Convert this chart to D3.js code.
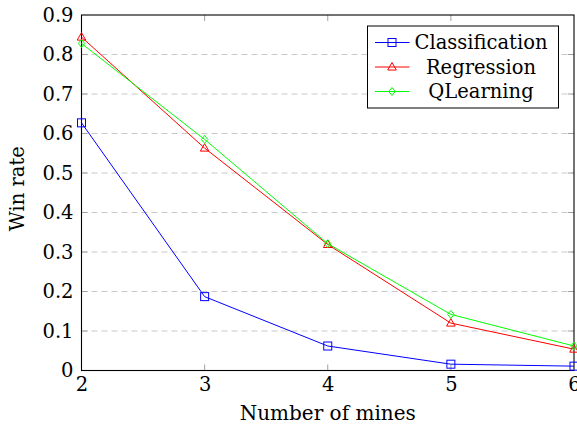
<!DOCTYPE html>
<html>
<head>
<meta charset="utf-8">
<script src="https://cdn.jsdelivr.net/npm/d3@7"></script>
<style>
  body { margin: 0; background: #fff; }
  text { font-family: "DejaVu Serif", serif; fill: #000; }
</style>
</head>
<body>
<div id="chart"></div>
<script>
// data
const mines = [2, 3, 4, 5, 6];
const classification = [0.627, 0.187, 0.062, 0.016, 0.011];
const regression = [0.844, 0.563, 0.319, 0.12, 0.054];
const qlearning = [0.828, 0.585, 0.321, 0.142, 0.062];
const yTicks = [0, 0.1, 0.2, 0.3, 0.4, 0.5, 0.6, 0.7, 0.8, 0.9];

const series = [
    {name: "Classification", values: classification, color: "#0000ff", marker: "square"},
    {name: "Regression", values: regression, color: "#ff0000", marker: "triangle"},
    {name: "QLearning", values: qlearning, color: "#00ff00", marker: "diamond"}
];

const width = 577, height = 426;
const margin = {top: 15, right: 3, bottom: 55.5, left: 81.5};
const w = width - margin.left - margin.right,
    h = height - margin.top - margin.bottom;

const svg = d3.select("#chart").append("svg")
    .attr("width", width)
    .attr("height", height);

const g = svg.append("g")
    .attr("transform", "translate(" + margin.left + "," + margin.top + ")");

const x = d3.scaleLinear().domain([2, 6]).range([0, w]);
const y = d3.scaleLinear().domain([0, 0.9]).range([h, 0]);

// dashed grid
g.append("g").selectAll("line")
    .data(yTicks.filter(d => d > 0 && d < 0.9))
    .enter().append("line")
    .attr("x1", 0).attr("x2", w)
    .attr("y1", d => y(d)).attr("y2", d => y(d))
    .attr("stroke", "#c8c8c8")
    .attr("stroke-width", 1)
    .attr("stroke-dasharray", "6,4");

// inner tick marks (left/right, bottom/top)
const tickLen = 6;
const tickG = g.append("g").attr("stroke", "#a0a0a0").attr("stroke-width", 1);
yTicks.filter(d => d > 0 && d < 0.9).forEach(d => {
    tickG.append("line").attr("x1", 0).attr("x2", tickLen).attr("y1", y(d)).attr("y2", y(d));
    tickG.append("line").attr("x1", w - tickLen).attr("x2", w).attr("y1", y(d)).attr("y2", y(d));
});
mines.filter(d => d > 2 && d < 6).forEach(d => {
    tickG.append("line").attr("x1", x(d)).attr("x2", x(d)).attr("y1", h).attr("y2", h - tickLen);
    tickG.append("line").attr("x1", x(d)).attr("x2", x(d)).attr("y1", 0).attr("y2", tickLen);
});

// axis labels via d3 axes, lines hidden
const yAxis = g.append("g")
    .call(d3.axisLeft(y).tickValues(yTicks).tickSize(0).tickPadding(8).tickFormat(d3.format("")));
const xAxis = g.append("g")
    .attr("transform", "translate(0," + h + ")")
    .call(d3.axisBottom(x).tickValues(mines).tickSize(0).tickPadding(7).tickFormat(d3.format("d")));
[yAxis, xAxis].forEach(a => {
    a.select(".domain").remove();
    a.selectAll("text")
        .style("font-family", "'DejaVu Serif', serif")
        .style("font-size", "19.5px")
        .attr("fill", "#000");
});

// frame
g.append("rect")
    .attr("width", w).attr("height", h)
    .attr("fill", "none")
    .attr("stroke", "#000")
    .attr("stroke-width", 1.1);

const line = d3.line()
    .x((d, i) => x(mines[i]))
    .y(d => y(d));

function drawMarker(sel, type, color, cx, cy) {
    if (type === "square") {
        sel.append("rect")
            .attr("x", cx - 4).attr("y", cy - 4)
            .attr("width", 8).attr("height", 8)
            .attr("fill", "none").attr("stroke", color).attr("stroke-width", 1);
    } else if (type === "triangle") {
        sel.append("path")
            .attr("d", "M" + cx + "," + (cy - 4.5) + "L" + (cx + 4.3) + "," + (cy + 3) + "L" + (cx - 4.3) + "," + (cy + 3) + "Z")
            .attr("fill", "none").attr("stroke", color).attr("stroke-width", 1);
    } else {
        sel.append("path")
            .attr("d", "M" + cx + "," + (cy - 4) + "L" + (cx + 3.2) + "," + cy + "L" + cx + "," + (cy + 4) + "L" + (cx - 3.2) + "," + cy + "Z")
            .attr("fill", "none").attr("stroke", color).attr("stroke-width", 1);
    }
}

series.forEach(s => {
    const sg = g.append("g");
    sg.append("path")
        .datum(s.values)
        .attr("d", line)
        .attr("fill", "none")
        .attr("stroke", s.color)
        .attr("stroke-width", 1);
    s.values.forEach((v, i) => drawMarker(sg, s.marker, s.color, x(mines[i]), y(v)));
});

// axis titles
svg.append("text")
    .attr("x", margin.left + w / 2)
    .attr("y", 420)
    .attr("text-anchor", "middle")
    .style("font-size", "20px")
    .text("Number of mines");

svg.append("text")
    .attr("transform", "translate(24," + (margin.top + h / 2 - 4) + ") rotate(-90)")
    .attr("text-anchor", "middle")
    .style("font-size", "19.5px")
    .text("Win rate");

// legend
const legend = svg.append("g").attr("transform", "translate(367.5,26)");
legend.append("rect")
    .attr("width", 191).attr("height", 82)
    .attr("fill", "#fff")
    .attr("stroke", "#000")
    .attr("stroke-width", 1);

series.forEach((s, i) => {
    const ry = 16.5 + i * 24.5;
    const item = legend.append("g");
    item.append("line")
        .attr("x1", 7.5).attr("x2", 42)
        .attr("y1", ry).attr("y2", ry)
        .attr("stroke", s.color).attr("stroke-width", 1);
    drawMarker(item, s.marker, s.color, 24.5, ry);
    item.append("text")
        .attr("x", 113.5)
        .attr("y", ry + 6.5)
        .attr("text-anchor", "middle")
        .style("font-size", "19.5px")
        .text(s.name);
});
</script>
</body>
</html>
